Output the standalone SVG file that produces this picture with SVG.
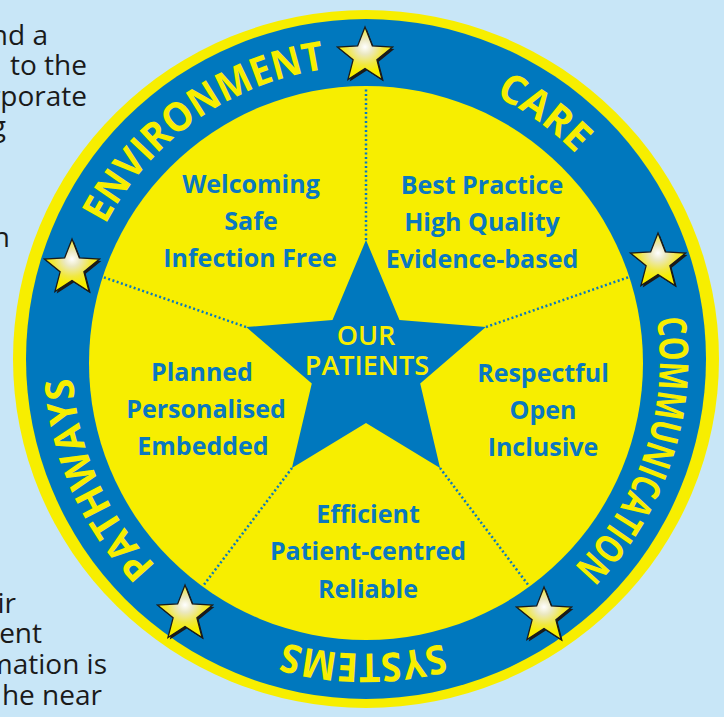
<svg xmlns="http://www.w3.org/2000/svg" xmlns:xlink="http://www.w3.org/1999/xlink" width="724" height="717" viewBox="0 0 724 717">
<style>
.para{font-family:"Open Sans","Liberation Sans",sans-serif;font-size:28px;fill:#1a1a1a;text-anchor:end}
.ring{font-family:"Open Sans","Liberation Sans",sans-serif;font-weight:700;font-size:40px;fill:#f7ee00}
.lbl{font-family:"Open Sans","Liberation Sans",sans-serif;font-weight:700;font-size:25px;fill:#0a78c0;text-anchor:middle}
.core{font-family:"Open Sans","Liberation Sans",sans-serif;font-weight:600;font-size:27px;fill:#f7ee00;text-anchor:middle}
.div{stroke:#0a78c0;stroke-width:2.5;stroke-dasharray:2 2.5;fill:none}
.yel{fill:#f7ee00}
.blu{fill:#0078be}
.shadow{fill:#1a1a1a}
.sstar{fill:url(#sg);stroke:#1a1a1a;stroke-width:1.3;stroke-linejoin:miter}
</style>
<defs>
<radialGradient id="sg" cx="0.5" cy="0.38" r="0.48">
<stop offset="0" stop-color="#ffffff"/>
<stop offset="0.3" stop-color="#ebe8c0"/>
<stop offset="0.7" stop-color="#f1e840"/>
<stop offset="1" stop-color="#f7ee00"/>
</radialGradient>
<polygon id="sp" points="0,-29 7.35,-10.11 27.58,-8.96 11.89,3.86 17.05,23.46 0,12.5 -17.05,23.46 -11.89,3.86 -27.58,-8.96 -7.35,-10.11"/>
<path id="ringPath" d="M219,614.611 A294,294 0 0 1 513,105.389 A294,294 0 0 1 219,614.611"/>
</defs>
<rect width="724" height="717" fill="#c8e6f7"/>
<g id="paragraph">
<text class="para" x="48" y="45">nd a</text>
<text class="para" x="87" y="75">to the</text>
<text class="para" x="87" y="106">rporate</text>
<text class="para" x="6" y="136">g</text>
<text class="para" x="10" y="247">n</text>
<text class="para" x="16" y="613">ir</text>
<text class="para" x="42" y="643">ent</text>
<text class="para" x="107" y="674">mation is</text>
<text class="para" x="102" y="705">he near</text>
</g>
<g id="wheel">
<ellipse class="yel" cx="366" cy="359" rx="353" ry="349"/>
<circle class="blu" cx="366" cy="359" r="340"/>
<circle class="yel" cx="366" cy="363" r="277"/>
</g>
<g id="connectors">
<line class="div" x1="366" y1="240" x2="366" y2="87"/>
<line class="div" x1="246" y1="327" x2="103" y2="277"/>
<line class="div" x1="486" y1="327" x2="629" y2="277"/>
<line class="div" x1="292" y1="468" x2="203" y2="586"/>
<line class="div" x1="440" y1="468" x2="529" y2="586"/>
</g>
<g id="our-patients">
<polygon class="blu" points="366,240 399.5,319.89 485.83,327.06 420.21,383.61 440.06,467.94 366,423 291.94,467.94 311.79,383.61 246.17,327.06 332.5,319.89"/>
<text class="core" x="366" y="345">OUR</text>
<text class="core" x="367" y="375">PATIENTS</text>
</g>
<g id="environment-sector">
<text class="lbl" x="251" y="193">Welcoming</text>
<text class="lbl" x="251" y="230">Safe</text>
<text class="lbl" x="250" y="267">Infection Free</text>
</g>
<g id="care-sector">
<text class="lbl" x="482" y="194">Best Practice</text>
<text class="lbl" x="482" y="231">High Quality</text>
<text class="lbl" x="482" y="268">Evidence-based</text>
</g>
<g id="pathways-sector">
<text class="lbl" x="202" y="381">Planned</text>
<text class="lbl" x="206" y="418">Personalised</text>
<text class="lbl" x="203" y="455">Embedded</text>
</g>
<g id="communication-sector">
<text class="lbl" x="543" y="382">Respectful</text>
<text class="lbl" x="543" y="419">Open</text>
<text class="lbl" x="543" y="456">Inclusive</text>
</g>
<g id="systems-sector">
<text class="lbl" x="368" y="523">Efficient</text>
<text class="lbl" x="368" y="560">Patient-centred</text>
<text class="lbl" x="368" y="598">Reliable</text>
</g>
<g id="ring-labels">
<text class="ring" text-anchor="middle"><textPath xlink:href="#ringPath" href="#ringPath" startOffset="184.7" textLength="210" lengthAdjust="spacingAndGlyphs">PATHWAYS</textPath></text>
<text class="ring" text-anchor="middle"><textPath xlink:href="#ringPath" href="#ringPath" startOffset="588" textLength="280" lengthAdjust="spacingAndGlyphs">ENVIRONMENT</textPath></text>
<text class="ring" text-anchor="middle"><textPath xlink:href="#ringPath" href="#ringPath" startOffset="952" textLength="100" lengthAdjust="spacingAndGlyphs">CARE</textPath></text>
<text class="ring" text-anchor="middle"><textPath xlink:href="#ringPath" href="#ringPath" startOffset="1323.9" textLength="272" lengthAdjust="spacingAndGlyphs">COMMUNICATION</textPath></text>
<text class="ring" text-anchor="middle"><textPath xlink:href="#ringPath" href="#ringPath" startOffset="1693.3" textLength="160" lengthAdjust="spacingAndGlyphs">SYSTEMS</textPath></text>
</g>
<g id="star-top" transform="translate(365,56)">
<use href="#sp" xlink:href="#sp" class="shadow" x="1.8" y="2"/>
<use href="#sp" xlink:href="#sp" class="sstar"/>
</g>
<g id="star-left" transform="translate(72,268)">
<use href="#sp" xlink:href="#sp" class="shadow" x="1.8" y="2"/>
<use href="#sp" xlink:href="#sp" class="sstar"/>
</g>
<g id="star-right" transform="translate(658,262)">
<use href="#sp" xlink:href="#sp" class="shadow" x="1.8" y="2"/>
<use href="#sp" xlink:href="#sp" class="sstar"/>
</g>
<g id="star-bottom-right" transform="translate(544,616)">
<use href="#sp" xlink:href="#sp" class="shadow" x="1.8" y="2"/>
<use href="#sp" xlink:href="#sp" class="sstar"/>
</g>
<g id="star-bottom-left" transform="translate(185,614)">
<use href="#sp" xlink:href="#sp" class="shadow" x="1.8" y="2"/>
<use href="#sp" xlink:href="#sp" class="sstar"/>
</g>
</svg>
